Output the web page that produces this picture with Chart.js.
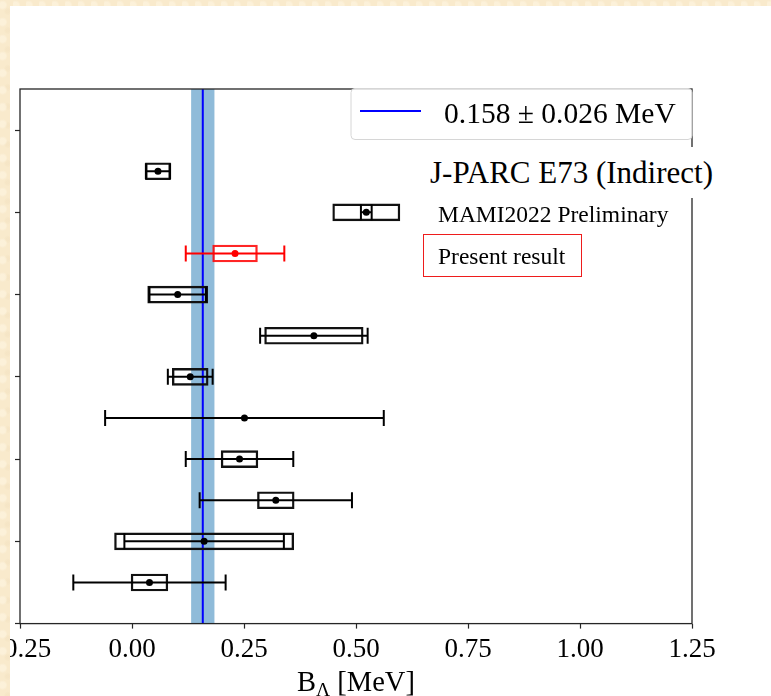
<!DOCTYPE html>
<html>
<head>
<meta charset="utf-8">
<script src="https://cdn.jsdelivr.net/npm/chart.js@4.4.0/dist/chart.umd.min.js"></script>
<style>
  html, body { margin: 0; padding: 0; }
  body {
    width: 771px; height: 696px; position: relative; overflow: hidden;
    font-family: "Liberation Serif", "Times New Roman", serif;
  }
  .paper {
    background-color: #f9eacc;
    background-image:
      radial-gradient(circle at 20% 30%, rgba(255,247,230,0.5) 0 3px, transparent 5px),
      radial-gradient(circle at 70% 60%, rgba(242,224,190,0.4) 0 2px, transparent 4px);
    background-size: 13px 17px, 11px 19px;
  }
  #bg { position: absolute; left: 0; top: 0; width: 771px; height: 696px; }
  #slide { position: absolute; left: 10px; top: 6px; right: 0; bottom: 0; background: #fff; }
  #chart { position: absolute; left: 0; top: 0; }
  .edge { position: absolute; z-index: 3; }
  .note { position: absolute; z-index: 2; color: #000; white-space: nowrap; }
  #jparc { left: 428px; top: 147px; height: 51px; line-height: 51px; font-size: 31px; padding: 0 4px 0 2px; background: #fff; }
  #mami { left: 438px; top: 203px; line-height: 1; font-size: 23.5px; }
  #present {
    left: 423px; top: 234px; width: 159px; height: 43px; box-sizing: border-box;
    border: 1px solid #ee1c1c; font-size: 23.5px; line-height: 41px; padding: 1px 0 0 14px;
  }
</style>
</head>
<body>
<div id="bg" class="paper"></div>
<div id="slide"></div>
<canvas id="chart" width="771" height="696"></canvas>
<div class="edge paper" style="left:0;top:0;width:10px;height:696px;"></div>
<div class="edge paper" style="left:0;top:0;width:771px;height:6px;"></div>
<div id="jparc" class="note">J-PARC E73 (Indirect)</div>
<div id="mami" class="note">MAMI2022 Preliminary</div>
<div id="present" class="note">Present result</div>
<script>
// rows from top to bottom
const rowPos = [10, 9, 8, 7, 6, 5, 4, 3, 2, 1, 0];
const centers = [0.058, 0.523, 0.230, 0.102, 0.406, 0.130, 0.251, 0.240, 0.321, 0.161, 0.039];
const statErr = [0.027, 0.012, 0.110, 0.063, 0.120, 0.050, 0.311, 0.120, 0.170, 0.178, 0.170];
const systErr = [0.028, 0.075, 0.050, 0.067, 0.110, 0.040, null, 0.041, 0.041, 0.200, 0.041];
const rowColors = ["#000", "#000", "#ff0000", "#000", "#000", "#000", "#000", "#000", "#000", "#000", "#000"];

const avgValue = 0.158;
const avgErr = 0.026;
const legendText = "0.158 \u00b1 0.026 MeV";

const xTicks = [-0.25, 0.0, 0.25, 0.5, 0.75, 1.0, 1.25];
const yTicks = [0, 2, 4, 6, 8, 10];

const serif = "'Liberation Serif', 'Times New Roman', serif";

const errorSets = rowPos.map((y, i) => ({
  type: "line",
  data: [
    { x: centers[i] - statErr[i], y: y },
    { x: centers[i] + statErr[i], y: y },
  ],
  borderColor: rowColors[i],
  borderWidth: 2,
  pointStyle: "line",
  rotation: 90,
  pointRadius: 8,
  pointHoverRadius: 8,
  pointBorderColor: rowColors[i],
  pointBorderWidth: 2,
  order: 2,
}));

const boxIdx = rowPos.map((y, i) => i).filter((i) => systErr[i] !== null);
const boxSet = {
  type: "bar",
  indexAxis: "y",
  grouped: false,
  data: boxIdx.map((i) => ({ x: [centers[i] - systErr[i], centers[i] + systErr[i]], y: rowPos[i] })),
  backgroundColor: "rgba(0,0,0,0)",
  borderColor: boxIdx.map((i) => (rowColors[i] === "#000" ? "#111" : "rgba(255,0,0,0.85)")),
  borderWidth: 1.7,
  borderSkipped: false,
  barThickness: 17,
  order: 3,
};

const pointSet = {
  type: "scatter",
  data: rowPos.map((y, i) => ({ x: centers[i], y: y })),
  pointRadius: 3.5,
  pointHoverRadius: 3.5,
  pointBackgroundColor: rowColors,
  pointBorderColor: rowColors,
  pointBorderWidth: 0,
  order: 1,
};

const avgLine = {
  type: "line",
  data: [
    { x: avgValue, y: -1 },
    { x: avgValue, y: 12 },
  ],
  borderColor: "#0000ff",
  borderWidth: 2,
  pointRadius: 0,
  order: 4,
};

// shaded average band, frame, legend and axis title
const extras = {
  id: "extras",
  beforeDatasetsDraw(chart) {
    const { ctx, chartArea, scales } = chart;
    const x1 = scales.x.getPixelForValue(avgValue - avgErr);
    const x2 = scales.x.getPixelForValue(avgValue + avgErr);
    ctx.save();
    ctx.fillStyle = "rgba(31,119,180,0.5)";
    ctx.fillRect(x1, chartArea.top, x2 - x1, chartArea.bottom - chartArea.top);
    ctx.restore();
  },
  afterDatasetsDraw(chart) {
    const { ctx, chartArea: a } = chart;
    ctx.save();
    ctx.strokeStyle = "#262626";
    ctx.lineWidth = 1.3;
    ctx.strokeRect(a.left, a.top, a.right - a.left, a.bottom - a.top);
    ctx.restore();
  },
  afterDraw(chart) {
    const { ctx, chartArea: a } = chart;
    ctx.save();
    // legend
    const lx = 351, ly = a.top - 0.5, lw = a.right - 351, lh = 51;
    ctx.beginPath();
    ctx.roundRect(lx, ly, lw, lh, 4);
    ctx.fillStyle = "rgba(255,255,255,0.8)";
    ctx.fill();
    ctx.strokeStyle = "#d6d6d6";
    ctx.lineWidth = 1;
    ctx.stroke();
    ctx.beginPath();
    ctx.moveTo(360, 111);
    ctx.lineTo(421, 111);
    ctx.strokeStyle = "#0000ff";
    ctx.lineWidth = 2;
    ctx.stroke();
    ctx.fillStyle = "#000";
    ctx.font = "29.5px " + serif;
    ctx.textBaseline = "alphabetic";
    ctx.fillText(legendText, 444, 123);
    // x axis title with subscript
    const cx = (a.left + a.right) / 2;
    const big = "28.5px " + serif, small = "19.5px " + serif;
    ctx.font = big;
    const wB = ctx.measureText("B").width;
    const wR = ctx.measureText(" [MeV]").width;
    ctx.font = small;
    const wL = ctx.measureText("\u039b").width;
    let x = cx - (wB + wL + wR) / 2;
    const base = 691;
    ctx.font = big;
    ctx.fillText("B", x, base);
    x += wB;
    ctx.font = small;
    ctx.fillText("\u039b", x, base + 5);
    x += wL;
    ctx.font = big;
    ctx.fillText(" [MeV]", x, base);
    ctx.restore();
  },
};

const axisGrid = {
  display: true,
  drawOnChartArea: false,
  drawTicks: true,
  tickLength: 5,
  tickColor: "#262626",
  tickWidth: 1.2,
};

new Chart(document.getElementById("chart"), {
  type: "scatter",
  data: { datasets: [avgLine, boxSet, ...errorSets, pointSet] },
  options: {
    responsive: false,
    animation: false,
    events: [],
    layout: { padding: { left: 15, right: 79, top: 89, bottom: 25 } },
    plugins: { legend: { display: false }, tooltip: { enabled: false } },
    scales: {
      x: {
        type: "linear",
        min: -0.25,
        max: 1.25,
        offset: false,
        afterBuildTicks: (s) => { s.ticks = xTicks.map((v) => ({ value: v })); },
        afterFit: (s) => { s.paddingLeft = 0; s.paddingRight = 0; },
        ticks: {
          color: "#000",
          font: { family: serif, size: 27 },
          padding: 5,
          maxRotation: 0,
          autoSkip: false,
          callback: (v) => (v < 0 ? "\u2212" : "") + Math.abs(v).toFixed(2),
        },
        grid: axisGrid,
        border: { display: false },
      },
      y: {
        type: "linear",
        min: -1,
        max: 12,
        offset: false,
        afterBuildTicks: (s) => { s.ticks = yTicks.map((v) => ({ value: v })); },
        afterFit: (s) => { s.paddingTop = 0; s.paddingBottom = 0; },
        ticks: { display: false },
        grid: axisGrid,
        border: { display: false },
      },
    },
  },
  plugins: [extras],
});
</script>
</body>
</html>
